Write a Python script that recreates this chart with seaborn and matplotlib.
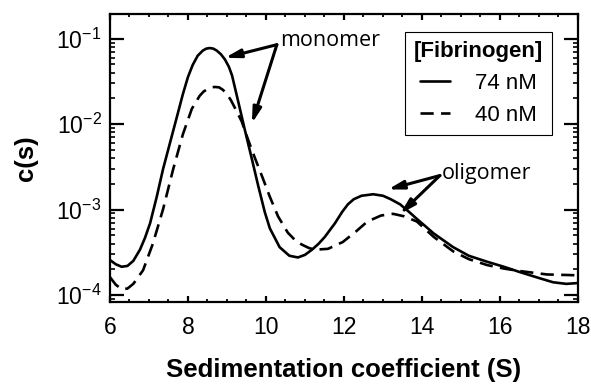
import numpy as np
import pandas as pd
import matplotlib
matplotlib.use("Agg")
import matplotlib.pyplot as plt
import seaborn as sns
from matplotlib.ticker import MultipleLocator, LogLocator, NullFormatter

# ---- data (c(s) values, log y axis) ----
s_74 = [6.0, 6.15, 6.3, 6.45, 6.6, 6.77, 6.9, 7.03, 7.2, 7.36, 7.54, 7.72, 7.87,
        8.0, 8.12, 8.25, 8.38, 8.47, 8.56, 8.65, 8.74, 8.85, 8.95, 9.05, 9.13,
        9.28, 9.46, 9.64, 9.8, 9.97, 10.1, 10.35, 10.6, 10.82, 11.0, 11.18, 11.35,
        11.51, 11.77, 11.95, 12.1, 12.25, 12.45, 12.75, 13.0, 13.2, 13.44, 13.65,
        13.87, 14.1, 14.3, 14.8, 15.2, 15.67, 16.1, 16.5, 17.0, 17.36, 17.7, 18.0]
c_74 = [2.57e-4, 2.29e-4, 2.14e-4, 2.19e-4, 2.51e-4, 3.39e-4, 4.68e-4, 6.92e-4,
        1.41e-3, 2.95e-3, 6.03e-3, 1.23e-2, 2.24e-2, 3.55e-2, 4.90e-2, 6.31e-2,
        7.24e-2, 7.64e-2, 7.76e-2, 7.64e-2, 7.24e-2, 6.53e-2, 5.69e-2, 4.68e-2,
        3.72e-2, 1.91e-2, 8.51e-3, 3.89e-3, 1.91e-3, 9.33e-4, 6.03e-4, 3.63e-4,
        2.88e-4, 2.75e-4, 2.95e-4, 3.39e-4, 3.98e-4, 4.79e-4, 6.92e-4, 9.33e-4,
        1.15e-3, 1.32e-3, 1.45e-3, 1.51e-3, 1.45e-3, 1.32e-3, 1.15e-3, 9.55e-4,
        7.76e-4, 6.31e-4, 5.25e-4, 3.63e-4, 2.88e-4, 2.45e-4, 2.14e-4, 1.86e-4,
        1.58e-4, 1.41e-4, 1.35e-4, 1.38e-4]

s_40 = [6.0, 6.15, 6.3, 6.45, 6.6, 6.85, 7.1, 7.36, 7.62, 7.87, 8.1, 8.3, 8.4,
        8.5, 8.6, 8.69, 8.8, 8.9, 9.0, 9.1, 9.25, 9.38, 9.54, 9.72, 9.9, 10.1,
        10.31, 10.56, 10.75, 10.92, 11.1, 11.26, 11.59, 11.97, 12.3, 12.6, 12.95,
        13.26, 13.55, 13.87, 14.3, 14.8, 15.2, 15.67, 16.1, 16.5, 17.2, 18.0]
c_40 = [1.62e-4, 1.32e-4, 1.17e-4, 1.19e-4, 1.35e-4, 1.95e-4, 3.98e-4, 1.0e-3,
        2.95e-3, 7.59e-3, 1.51e-2, 2.14e-2, 2.40e-2, 2.57e-2, 2.69e-2, 2.72e-2,
        2.69e-2, 2.51e-2, 2.24e-2, 1.91e-2, 1.41e-2, 1.07e-2, 6.61e-3, 3.98e-3,
        2.45e-3, 1.41e-3, 8.32e-4, 5.37e-4, 4.37e-4, 3.89e-4, 3.55e-4, 3.39e-4,
        3.47e-4, 4.17e-4, 5.5e-4, 7.24e-4, 8.51e-4, 8.91e-4, 8.32e-4, 7.24e-4,
        4.79e-4, 3.24e-4, 2.63e-4, 2.24e-4, 2.04e-4, 1.91e-4, 1.74e-4, 1.70e-4]

series_labels = ["74 nM", "40 nM"]
legend_title = "[Fibrinogen]"
x_label = "Sedimentation coefficient (S)"
y_label = "c(s)"

monomer_text = (10.36, 0.0947)
monomer_heads = [(8.95, 0.0597), (9.64, 0.0102)]
monomer_tail = (10.28, 0.085)
oligomer_text = (14.51, 2.63e-3)
oligomer_heads = [(13.13, 1.72e-3), (13.44, 8.9e-4)]
oligomer_tail = (14.46, 2.5e-3)

# ---- plotting ----
sns.set_style("ticks")
plt.rcParams["font.family"] = ["Liberation Sans", "DejaVu Sans"]
plt.rcParams["mathtext.default"] = "regular"
for key in ["text.color", "axes.labelcolor", "xtick.color", "ytick.color",
            "axes.edgecolor"]:
    plt.rcParams[key] = "black"

df = pd.concat([
    pd.DataFrame({"s": s_74, "c": c_74, "conc": series_labels[0]}),
    pd.DataFrame({"s": s_40, "c": c_40, "conc": series_labels[1]}),
])

fig = plt.figure(figsize=(5.91, 3.85), dpi=100)
ax = fig.add_axes([0.186, 0.216, 0.792, 0.748])

sns.lineplot(data=df, x="s", y="c", hue="conc", style="conc",
             palette=["black", "black"],
             dashes={series_labels[0]: "", series_labels[1]: (5, 2.8)},
             linewidth=1.9, sort=False, ax=ax, legend=True)
for ln in ax.get_lines():
    ln.set_solid_joinstyle("round")
    ln.set_dash_joinstyle("round")

ax.set_yscale("log")
ax.set_xlim(6, 18)
ax.set_ylim(10 ** -4.08, 10 ** -0.71)

ax.xaxis.set_major_locator(MultipleLocator(2))
ax.xaxis.set_minor_locator(MultipleLocator(0.5))
ax.yaxis.set_major_locator(LogLocator(base=10, numticks=10))
ax.yaxis.set_minor_locator(LogLocator(base=10, subs=np.arange(2, 10), numticks=20))
ax.yaxis.set_minor_formatter(NullFormatter())

for sp in ax.spines.values():
    sp.set_linewidth(1.6)
    sp.set_color("black")

ax.tick_params(axis="both", which="both", direction="in", top=True, right=True,
               colors="black", labelsize=16.5)
ax.tick_params(axis="x", which="major", length=4.5, width=1.6, pad=10)
ax.tick_params(axis="x", which="minor", length=2.5, width=1.3)
ax.tick_params(axis="y", which="major", length=10, width=1.6, pad=6)
ax.tick_params(axis="y", which="minor", length=3.5, width=1.2)

ax.set_xlabel(x_label, fontsize=18.5, fontweight="bold", labelpad=14)
ax.set_ylabel(y_label, fontsize=18.5, fontweight="bold", labelpad=13)

# legend
handles, labels = ax.get_legend_handles_labels()
leg = ax.legend(handles, labels, title=legend_title, loc="upper right",
                bbox_to_anchor=(0.944, 0.9375), fontsize=16,
                title_fontproperties={"weight": "bold", "size": 16},
                frameon=True, fancybox=False, framealpha=1, edgecolor="black",
                handlelength=1.35, handletextpad=1.1, borderpad=0.4, labelspacing=0.5,
                borderaxespad=0)
leg.get_frame().set_linewidth(0.8)

# annotations
arrow_kw = dict(arrowstyle="-|>,head_length=0.9,head_width=0.25", color="black",
                lw=2.2, shrinkA=0, shrinkB=0)
ax.text(*monomer_text, "monomer", fontsize=15.5, color="black",
        family=["Open Sans", "DejaVu Sans"], ha="left", va="center")
for h in monomer_heads:
    ax.annotate("", xy=h, xytext=monomer_tail, arrowprops=arrow_kw)
ax.text(*oligomer_text, "oligomer", fontsize=15.5, color="black",
        family=["Open Sans", "DejaVu Sans"], ha="left", va="center")
for h in oligomer_heads:
    ax.annotate("", xy=h, xytext=oligomer_tail, arrowprops=arrow_kw)

fig.savefig("out.png", dpi=100)
